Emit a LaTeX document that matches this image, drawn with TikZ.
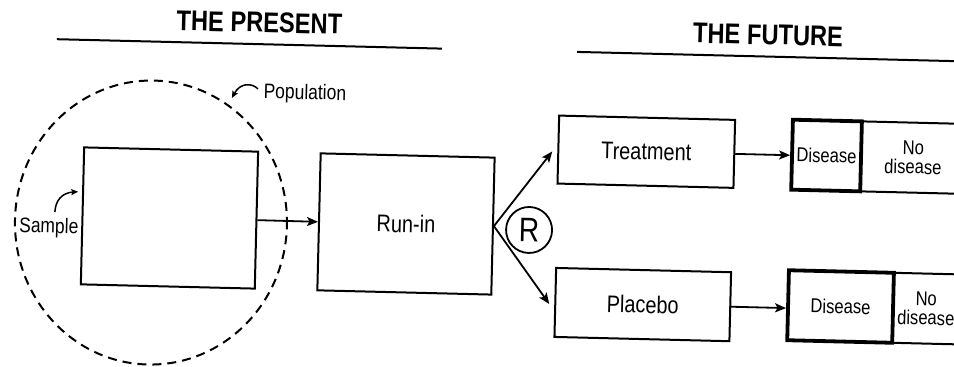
\documentclass[tikz,border=0pt]{standalone}
\usepackage{fontspec}
\setmainfont{Liberation Sans}[FakeStretch=0.83]
\usetikzlibrary{arrows.meta,shapes.geometric}
\tikzset{
 box/.style={draw, line width=2pt, inner sep=0pt, font=\fontsize{24}{28}\selectfont},
 dbox/.style={draw, line width=3.8pt, inner sep=0pt, font=\fontsize{20}{19}\selectfont},
 ndbox/.style={draw, line width=2pt, inner sep=0pt, align=center, font=\fontsize{20}{19}\selectfont},
 arr/.style={line width=1.8pt, -{Stealth[length=11pt,width=9pt,inset=2.5pt]}},
 carr/.style={line width=1.5pt, -{Stealth[length=7pt,width=6pt,inset=1.5pt]}},
 title/.style={font=\fontsize{28.5}{30}\selectfont\bfseries, inner sep=0pt},
 lbl/.style={font=\fontsize{21}{24}\selectfont, inner sep=0pt},
 tline/.style={line width=2pt},
 popline/.style={draw, line width=2pt, dash pattern=on 9pt off 6pt},
}
\begin{document}
\begin{tikzpicture}[x=1pt,y=-1pt]
\useasboundingbox (0,0) rectangle (954,367);
\clip (0,0) rectangle (954,367);
\begin{scope}[rotate around={-1.4:(477,183)}, transform shape]
 % titles
 \node[title] (tpres) at (255.6,27.8) {THE PRESENT};
 \node[title] (tfut) at (764.4,27.9) {THE FUTURE};
 \coordinate (pl1) at (53.5,49.5);
 \coordinate (pl2) at (438.7,49.5);
 \coordinate (fl1) at (573.8,49.5);
 \coordinate (fl2) at (990,49.5);
 \draw[tline] (pl1) -- (pl2);
 \draw[tline] (fl1) -- (fl2);

 % population and sample
 \node[popline, ellipse, minimum width=272pt, minimum height=284pt, inner sep=0pt] (pop) at (152,230.5) {};
 \node[box, minimum width=174pt, minimum height=137pt] (sample) at (170.4,225.5) {};
 \node[lbl] (poplbl) at (302.8,98.2) {Population};
 \node[lbl] (samplbl) at (50,238) {Sample};
 \coordinate (popS) at (255.7,94.3);
 \coordinate (popE) at (229.9,104);
 \draw[carr] (popS) .. controls (250,88.5) and (238,88) .. (popE);
 \coordinate (samS) at (55.7,222.3);
 \coordinate (samE) at (78.5,201.4);
 \draw[carr] (samS) .. controls (56,211) and (62,203) .. (samE);

 % run-in
 \node[box, minimum width=174pt, minimum height=137pt] (runin) at (407,225.7) {Run-in};
 \draw[arr] (sample.east) -- (runin.west);

 % arms
 \node[box, minimum width=176pt, minimum height=68pt] (treat) at (645.5,147.6) {Treatment};
 \node[box, minimum width=175pt, minimum height=69pt] (plac) at (645.7,300.5) {Placebo};
 \node[circle, draw, line width=1.8pt, minimum size=46pt, inner sep=0pt, font=\fontsize{34}{36}\selectfont] (R) at (530.2,228.7) {R};
 \draw[arr] (runin.east) -- ([xshift=-5pt,yshift=-2pt]treat.west);
 \draw[arr] (runin.east) -- ([xshift=-5pt,yshift=-1.7pt]plac.west);

 % outcomes
 \node[ndbox, minimum width=104pt, minimum height=70pt] (nd1) at (912.4,147) {No\\disease};
 \node[dbox, minimum width=69pt, minimum height=70pt] (dis1) at (825.8,147) {Disease};
 \node[ndbox, minimum width=66pt, minimum height=70pt] (nd2) at (929,297.6) {No\\disease};
 \node[dbox, minimum width=105pt, minimum height=70pt] (dis2) at (843.5,297.6) {Disease};
 \draw[arr] (treat.east) -- (treat.east -| dis1.west);
 \draw[arr] (plac.east) -- (plac.east -| dis2.west);
\end{scope}
\end{tikzpicture}
\end{document}
